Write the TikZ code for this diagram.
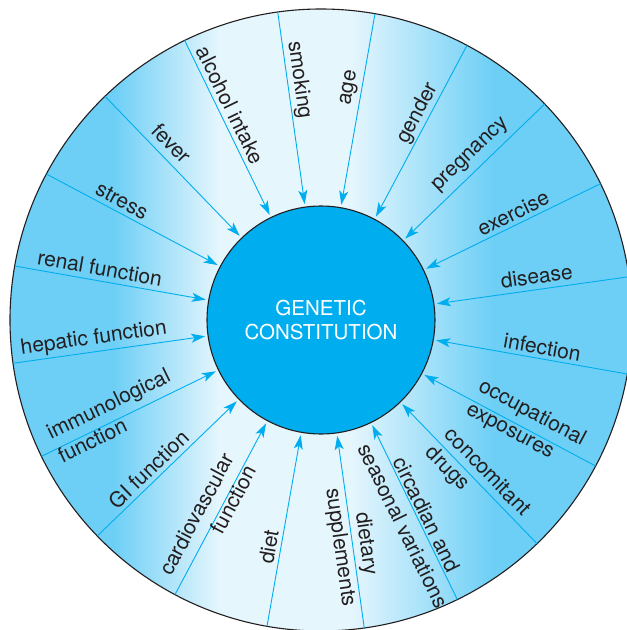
\documentclass[tikz,border=0pt]{standalone}
\usepackage{fontspec}
\setmainfont{TeX Gyre Heros}
\usepackage{xcolor}
\usepackage{tikz}
\usetikzlibrary{arrows.meta}
\definecolor{ringblue}{RGB}{109,207,246}
\definecolor{ringpale}{RGB}{230,246,253}
\definecolor{corecyan}{RGB}{0,174,239}
\definecolor{inkgray}{RGB}{35,31,32}
\tikzset{
  spoke/.style={draw=corecyan,line width=0.9pt,-{Stealth[length=14pt,width=9pt,inset=3.5pt]}},
  tag/.style={text=inkgray,inner sep=0pt,font=\fontsize{21}{26}\selectfont}
}

\begin{document}
\begin{tikzpicture}[x=1pt,y=1pt]
\useasboundingbox (-321,-310) rectangle (306,320);
\clip (-321,-310) rectangle (306,320);
\begin{scope}
  \clip (0,0) circle (311);
  \fill[ringblue] (-311,-311) rectangle (-208,311);
  \shade[left color=ringblue,right color=ringpale] (-208,-311) rectangle (-101,311);
  \fill[ringpale] (-101,-311) rectangle (29,311);
  \shade[left color=ringpale,right color=ringblue] (29,-311) rectangle (173,311);
  \fill[ringblue] (173,-311) rectangle (311,311);
\end{scope}
\draw[inkgray,line width=1.1pt] (0,0) circle (311);
\node[circle,draw=inkgray,line width=1.1pt,fill=corecyan,minimum size=228pt,outer sep=3pt,
  text=white,align=center,font=\fontsize{20.5}{24}\selectfont] (core) at (0,0) {GENETIC\\CONSTITUTION};
\foreach \a/\d/\r/\al/\t [count=\i] in {
  8/3.5/220/center/disease, 26/3.1/220/center/exercise, 44/3.6/223/center/pregnancy,
  62/2.9/228/center/gender, 80/2.9/234/center/age, 98/-2.8/241/center/smoking,
  116/-3.2/233/center/{alcohol intake}, 134/-3.9/231/center/fever, 152/-2.9/232/center/stress,
  170/-3.2/227/center/{renal function}, -172/-3.3/228/center/{hepatic function},
  -154/-1.3/228/left/{immunological\\function}, -136/-3.1/228/center/{GI function},
  -118/-1.5/230/right/{cardiovascular\\function}, -100/-3/233/center/diet,
  -82/0/228/center/{dietary\\supplements}, -64/-0.8/221/center/{circadian and\\seasonal variations},
  -46/0/225/left/{concomitant\\drugs}, -28/0.9/230/left/{occupational\\exposures},
  -10/3/223/center/infection}{
  \pgfmathsetmacro\rot{\a>90 ? \a-180 : (\a<-90 ? \a+180 : \a)}
  \coordinate (rim\i) at (\a:311);
  \draw[spoke] (rim\i) -- (core.\a);
  \node[tag,rotate=\rot,align=\al] (lab\i) at ({\a+(\d)}:\r) {\t};
}
\end{tikzpicture}
\end{document}
